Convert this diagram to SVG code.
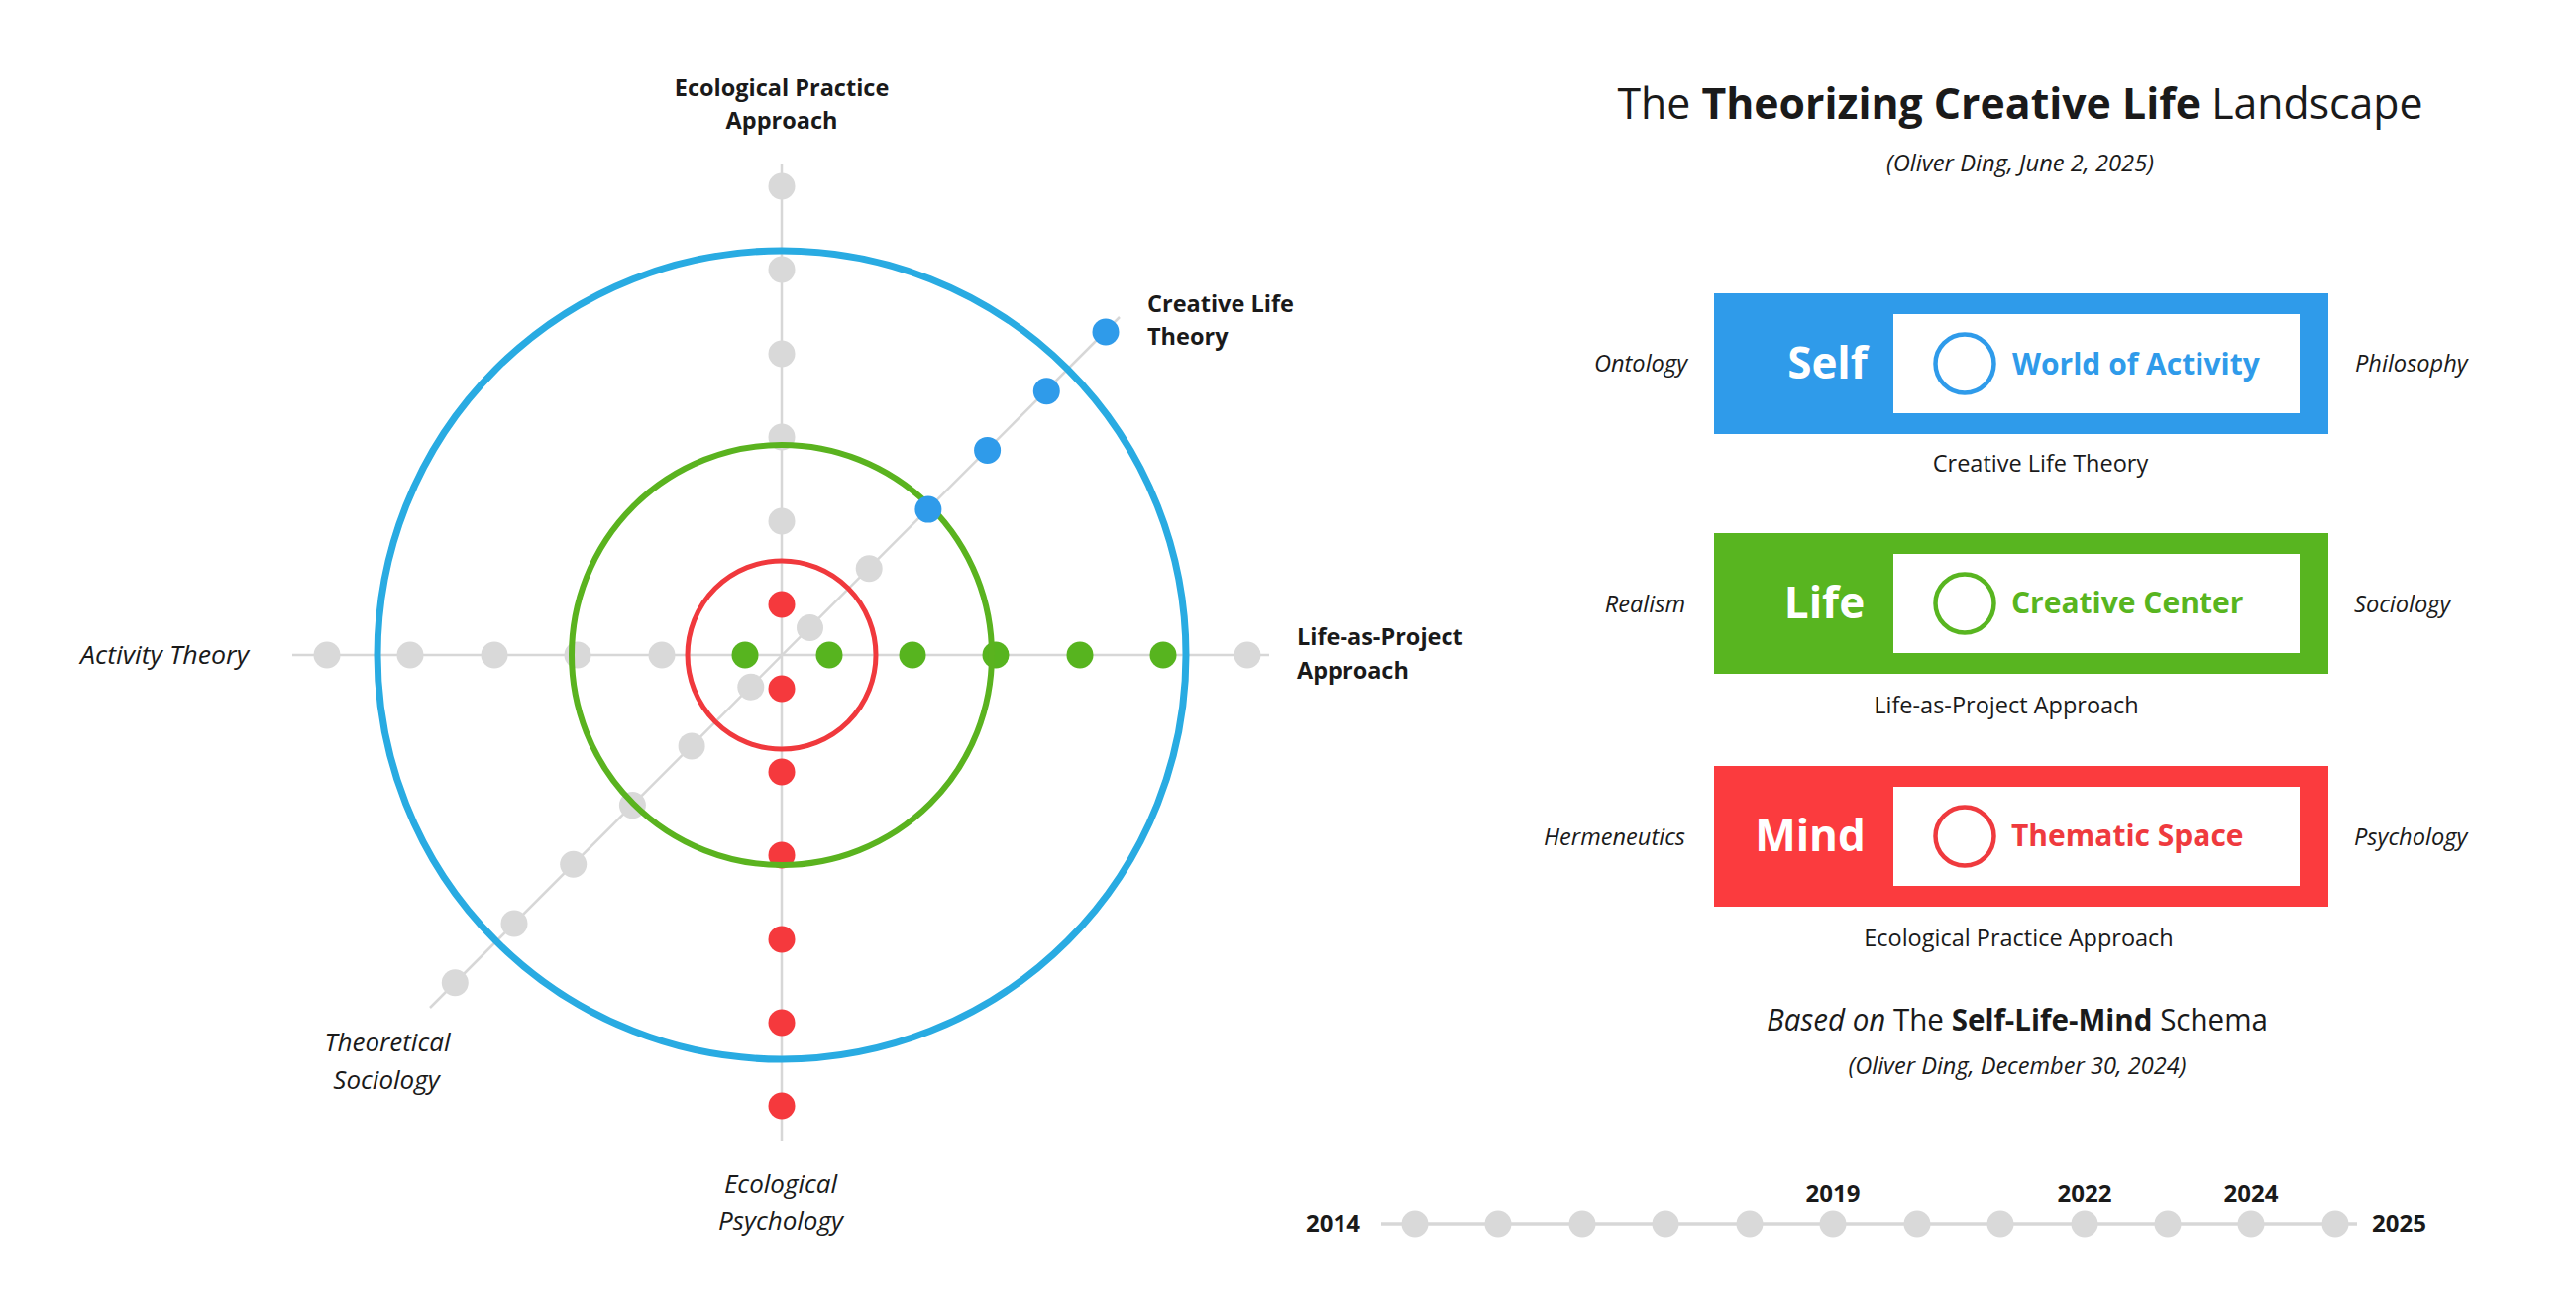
<svg xmlns="http://www.w3.org/2000/svg" width="2600" height="1322" viewBox="0 0 2600 1322">
<style>
text{font-family:"Open Sans","Liberation Sans",sans-serif;fill:#1a1a1a}
.b{font-weight:700}
.i{font-style:italic}
.lab{font-size:23.5px;font-weight:700}
.ilab{font-size:26px;font-style:italic}
.side{font-size:23.6px;font-style:italic}
.cap{font-size:23.5px}
.big{font-size:44px;font-weight:700;fill:#fff}
.inner{font-size:30px;font-weight:700}
.yr{font-size:24px;font-weight:700}
.axis{stroke:#d7d7d7;stroke-width:2.5;fill:none}
.g{fill:#d9d9d9}
.r{fill:#f5393d}
.gr{fill:#57b41f}
.bl{fill:#2f9bea}
.ring{fill:none}
</style>
<rect width="2600" height="1322" fill="#fff"/>
<g id="connectors">
<line class="axis" x1="295" y1="661" x2="1281" y2="661"/>
<line class="axis" x1="789" y1="166" x2="789" y2="1151"/>
<line class="axis" x1="1130" y1="320" x2="434" y2="1017"/>
<line class="axis" x1="1394" y1="1235" x2="2379" y2="1235" style="stroke-width:3.5"/>
</g>
<g id="dots-vertical">
<circle class="g" cx="789" cy="188" r="13.5"/>
<circle class="g" cx="789" cy="272" r="13.5"/>
<circle class="g" cx="789" cy="357" r="13.5"/>
<circle class="g" cx="789" cy="441" r="13.5"/>
<circle class="g" cx="789" cy="526" r="13.5"/>
<circle class="r" cx="789" cy="610" r="13.5"/>
<circle class="r" cx="789" cy="695" r="13.5"/>
<circle class="r" cx="789" cy="779" r="13.5"/>
<circle class="r" cx="789" cy="863" r="13.5"/>
<circle class="r" cx="789" cy="948" r="13.5"/>
<circle class="r" cx="789" cy="1032" r="13.5"/>
<circle class="r" cx="789" cy="1116" r="13.5"/>
</g>
<g id="dots-horizontal">
<circle class="g" cx="330" cy="661" r="13.5"/>
<circle class="g" cx="414" cy="661" r="13.5"/>
<circle class="g" cx="499" cy="661" r="13.5"/>
<circle class="g" cx="583" cy="661" r="13.5"/>
<circle class="g" cx="668" cy="661" r="13.5"/>
<circle class="gr" cx="752" cy="661" r="13.5"/>
<circle class="gr" cx="837" cy="661" r="13.5"/>
<circle class="gr" cx="921" cy="661" r="13.5"/>
<circle class="gr" cx="1005" cy="661" r="13.5"/>
<circle class="gr" cx="1090" cy="661" r="13.5"/>
<circle class="gr" cx="1174" cy="661" r="13.5"/>
<circle class="g" cx="1259" cy="661" r="13.5"/>
</g>
<g id="dots-diagonal">
<circle class="g" cx="877.2" cy="573.8" r="13.5"/>
<circle class="g" cx="817.5" cy="633.5" r="13.5"/>
<circle class="g" cx="757.8" cy="693.2" r="13.5"/>
<circle class="g" cx="698.1" cy="752.9" r="13.5"/>
<circle class="g" cx="638.4" cy="812.6" r="13.5"/>
<circle class="g" cx="578.7" cy="872.3" r="13.5"/>
<circle class="g" cx="519" cy="932" r="13.5"/>
<circle class="g" cx="459.3" cy="991.7" r="13.5"/>
</g>
<g id="ring-self"><circle class="ring" cx="789" cy="661" r="408" stroke="#29abe2" stroke-width="7"/></g>
<g id="ring-life"><circle class="ring" cx="789" cy="661" r="212" stroke="#5ab31f" stroke-width="6"/></g>
<g id="ring-mind"><circle class="ring" cx="789" cy="661" r="95" stroke="#f0393d" stroke-width="5"/></g>
<g id="dots-blue">
<circle class="bl" cx="1116" cy="335" r="13.5"/>
<circle class="bl" cx="1056.3" cy="394.7" r="13.5"/>
<circle class="bl" cx="996.6" cy="454.4" r="13.5"/>
<circle class="bl" cx="936.9" cy="514.1" r="13.5"/>
</g>
<g id="axis-labels">
<text class="lab" x="789" y="97" text-anchor="middle">Ecological Practice</text>
<text class="lab" x="789" y="130" text-anchor="middle">Approach</text>
<text class="lab" x="1158" y="315">Creative Life</text>
<text class="lab" x="1158" y="348">Theory</text>
<text class="lab" x="1309" y="651">Life-as-Project</text>
<text class="lab" x="1309" y="685">Approach</text>
<text class="ilab" x="81" y="670" textLength="170" lengthAdjust="spacingAndGlyphs">Activity Theory</text>
<text class="ilab" x="391" y="1061" text-anchor="middle">Theoretical</text>
<text class="ilab" x="390" y="1099" text-anchor="middle">Sociology</text>
<text class="ilab" x="788" y="1204" text-anchor="middle">Ecological</text>
<text class="ilab" x="788" y="1241" text-anchor="middle">Psychology</text>
</g>
<g id="title">
<text x="2039" y="120" text-anchor="middle" style="font-size:43px" textLength="813" lengthAdjust="spacingAndGlyphs">The <tspan class="b">Theorizing Creative Life</tspan> Landscape</text>
<text class="i" x="2039" y="173" text-anchor="middle" style="font-size:23px" textLength="270" lengthAdjust="spacingAndGlyphs">(Oliver Ding, June 2, 2025)</text>
</g>
<g id="node-self">
<rect x="1730" y="296" width="620" height="142" fill="#2f9bea"/>
<rect x="1911" y="317" width="410" height="100" fill="#fff"/>
<circle cx="1983" cy="367" r="29.5" fill="none" stroke="#2f9bea" stroke-width="4.5"/>
<text class="big" x="1844.5" y="382" text-anchor="middle">Self</text>
<text class="inner" x="2031" y="378" style="fill:#2f9bea">World of Activity</text>
<text class="side" x="1703" y="375" text-anchor="end">Ontology</text>
<text class="side" x="2377" y="375">Philosophy</text>
<text class="cap" x="2059.5" y="476" text-anchor="middle">Creative Life Theory</text>
</g>
<g id="node-life">
<rect x="1730" y="538" width="620" height="142" fill="#58b520"/>
<rect x="1911" y="559" width="410" height="100" fill="#fff"/>
<circle cx="1983" cy="609" r="29.5" fill="none" stroke="#58b520" stroke-width="4.5"/>
<text class="big" x="1841.5" y="624" text-anchor="middle">Life</text>
<text class="inner" x="2030" y="619" style="fill:#58b520">Creative Center</text>
<text class="side" x="1701" y="618" text-anchor="end">Realism</text>
<text class="side" x="2376" y="618">Sociology</text>
<text class="cap" x="2025" y="720" text-anchor="middle">Life-as-Project Approach</text>
</g>
<g id="node-mind">
<rect x="1730" y="773" width="620" height="142" fill="#fb3b3e"/>
<rect x="1911" y="794" width="410" height="100" fill="#fff"/>
<circle cx="1983" cy="844" r="29.5" fill="none" stroke="#ef3a3e" stroke-width="4.5"/>
<text class="big" x="1827" y="859" text-anchor="middle">Mind</text>
<text class="inner" x="2030" y="854" style="fill:#ef3a3e">Thematic Space</text>
<text class="side" x="1701" y="853" text-anchor="end">Hermeneutics</text>
<text class="side" x="2376" y="853">Psychology</text>
<text class="cap" x="2037.5" y="955" text-anchor="middle">Ecological Practice Approach</text>
</g>
<g id="schema">
<text x="2036" y="1040" text-anchor="middle" style="font-size:31px" textLength="506" lengthAdjust="spacingAndGlyphs"><tspan class="i">Based on</tspan> The <tspan class="b">Self-Life-Mind</tspan> Schema</text>
<text class="i" x="2036" y="1084" text-anchor="middle" style="font-size:23px" textLength="341" lengthAdjust="spacingAndGlyphs">(Oliver Ding, December 30, 2024)</text>
</g>
<g id="timeline">
<circle class="g" cx="1428" cy="1235" r="13.5"/>
<circle class="g" cx="1512" cy="1235" r="13.5"/>
<circle class="g" cx="1597" cy="1235" r="13.5"/>
<circle class="g" cx="1681" cy="1235" r="13.5"/>
<circle class="g" cx="1766" cy="1235" r="13.5"/>
<circle class="g" cx="1850" cy="1235" r="13.5"/>
<circle class="g" cx="1935" cy="1235" r="13.5"/>
<circle class="g" cx="2019" cy="1235" r="13.5"/>
<circle class="g" cx="2104" cy="1235" r="13.5"/>
<circle class="g" cx="2188" cy="1235" r="13.5"/>
<circle class="g" cx="2272" cy="1235" r="13.5"/>
<circle class="g" cx="2357" cy="1235" r="13.5"/>
<text class="yr" x="1373" y="1243" text-anchor="end">2014</text>
<text class="yr" x="2394" y="1243">2025</text>
<text class="yr" x="1850" y="1213" text-anchor="middle">2019</text>
<text class="yr" x="2104" y="1213" text-anchor="middle">2022</text>
<text class="yr" x="2272" y="1213" text-anchor="middle">2024</text>
</g>
</svg>
